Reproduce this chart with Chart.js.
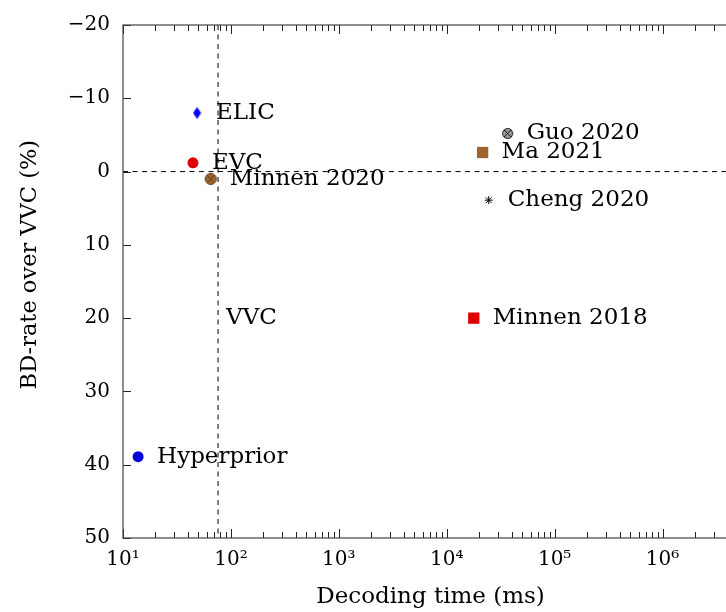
<!DOCTYPE html>
<html>
<head>
<meta charset="utf-8">
<script src="https://cdn.jsdelivr.net/npm/chart.js@4.4.1/dist/chart.umd.min.js"></script>
<style>
    html, body { margin: 0; padding: 0; background: #fff; }
    #wrap { width: 726px; height: 612px; overflow: hidden; position: relative; }
</style>
</head>
<body>
<div id="wrap"><canvas id="chart" width="760" height="612" style="width:760px;height:612px"></canvas></div>
<script>
// values
const methods = ["ELIC", "EVC", "Minnen 2020", "Guo 2020", "Ma 2021", "Cheng 2020", "Minnen 2018", "Hyperprior"];
const decodeTimeMs = [48.5, 44.5, 65, 36700, 21500, 24500, 17800, 13.8];
const bdRate = [-8.0, -1.2, 1.0, -5.2, -2.6, 3.9, 20.0, 38.9];

// VVC anchor (dashed cross) and its label
const vvcTime = 76;
const vvcRate = 0;
const vvcLabelRate = 20;

const xMin = 10;
const xMax = 5e6;
const xDecades = [10, 100, 1000, 10000, 100000, 1000000];
const xTickLabels = ["10¹", "10²", "10³", "10⁴", "10⁵", "10⁶"];
const xMinorSteps = [2, 3, 4, 5, 6, 7, 8, 9];

const serif = "'DejaVu Serif', 'Liberation Serif', serif";

function marker(w, h, draw) {
    const c = document.createElement("canvas");
    c.width = w; c.height = h;
    draw(c.getContext("2d"), w, h);
    return c;
}

const diamond = marker(9, 13, (g, w, h) => {
    g.fillStyle = "#0000ff";
    g.beginPath();
    g.moveTo(w / 2, 0.5); g.lineTo(w - 0.5, h / 2); g.lineTo(w / 2, h - 0.5); g.lineTo(0.5, h / 2);
    g.closePath(); g.fill();
});

function circleX(fill, stroke, r) {
    const s = Math.ceil(r * 2 + 3);
    return marker(s, s, (g) => {
        const c = s / 2;
        g.fillStyle = fill; g.strokeStyle = stroke; g.lineWidth = 1;
        g.beginPath(); g.arc(c, c, r, 0, Math.PI * 2); g.fill(); g.stroke();
        const d = r * 0.7;
        g.beginPath();
        g.moveTo(c - d, c - d); g.lineTo(c + d, c + d);
        g.moveTo(c + d, c - d); g.lineTo(c - d, c + d);
        g.stroke();
    });
}

const styles = {
    "ELIC":        { pointStyle: diamond, color: "#0000ff", radius: 6, border: 0 },
    "EVC":         { pointStyle: "circle", color: "#e00000", radius: 5.5, border: 0 },
    "Minnen 2020": { pointStyle: circleX("#a0682f", "#5e3a16", 5.5), color: "#a0682f", radius: 6, border: 0 },
    "Guo 2020":    { pointStyle: circleX("#9a9a9a", "#111111", 5), color: "#9a9a9a", radius: 6, border: 0 },
    "Ma 2021":     { pointStyle: "rect", color: "#a0652f", radius: 8, border: 0 },
    "Cheng 2020":  { pointStyle: "star", color: "#000000", radius: 4, border: 1 },
    "Minnen 2018": { pointStyle: "rect", color: "#dd0000", radius: 8, border: 0 },
    "Hyperprior":  { pointStyle: "circle", color: "#0000dd", radius: 5.5, border: 0 }
};

const points = methods.map((m, i) => ({ x: decodeTimeMs[i], y: bdRate[i] }));

// frame plus inward tick marks (pgfplots style)
const frameAndTicks = {
    id: "frameAndTicks",
    afterDraw(chart) {
        const { ctx, chartArea: a, scales } = chart;
        ctx.save();
        ctx.setLineDash([]);
        ctx.strokeStyle = "#222";
        ctx.lineWidth = 1;
        ctx.beginPath();
        scales.x.ticks.forEach(t => {
            const px = Math.round(scales.x.getPixelForValue(t.value)) + 0.5;
            const len = t.major ? 9 : 6;
            ctx.moveTo(px, a.bottom); ctx.lineTo(px, a.bottom - len);
            ctx.moveTo(px, a.top); ctx.lineTo(px, a.top + len);
        });
        scales.y.ticks.forEach(t => {
            const py = Math.round(scales.y.getPixelForValue(t.value)) + 0.5;
            ctx.moveTo(a.left, py); ctx.lineTo(a.left + 8, py);
            ctx.moveTo(a.right, py); ctx.lineTo(a.right - 8, py);
        });
        ctx.stroke();
        ctx.strokeStyle = "#444";
        ctx.lineWidth = 1.2;
        ctx.strokeRect(a.left, a.top, a.right - a.left, a.bottom - a.top);
        ctx.restore();
    }
};

const pointLabels = {
    id: "pointLabels",
    afterDatasetsDraw(chart) {
        const { ctx, scales } = chart;
        const meta = chart.getDatasetMeta(0);
        ctx.save();
        ctx.fillStyle = "#000";
        ctx.font = "23px " + serif;
        ctx.textBaseline = "middle";
        ctx.textAlign = "left";
        meta.data.forEach((el, i) => {
            ctx.fillText(methods[i], el.x + 19, el.y);
        });
        ctx.fillText("VVC", scales.x.getPixelForValue(vvcTime) + 8, scales.y.getPixelForValue(vvcLabelRate));
        ctx.restore();
    }
};

const dashed = { borderColor: "#000", borderWidth: 1, borderDash: [5, 4.5], pointRadius: 0, fill: false, order: 2 };

new Chart(document.getElementById("chart"), {
    type: "scatter",
    data: {
        datasets: [
            {
                label: "methods",
                data: points,
                pointStyle: methods.map(m => styles[m].pointStyle),
                backgroundColor: methods.map(m => styles[m].color),
                borderColor: methods.map(m => styles[m].color),
                borderWidth: methods.map(m => styles[m].border),
                pointRadius: methods.map(m => styles[m].radius),
                order: 0
            },
            Object.assign({ type: "line", data: [{ x: xMin, y: vvcRate }, { x: xMax, y: vvcRate }] }, dashed),
            Object.assign({ type: "line", data: [{ x: vvcTime, y: -20 }, { x: vvcTime, y: 50 }] }, dashed)
        ]
    },
    options: {
        responsive: false,
        animation: false,
        events: [],
        layout: { padding: { top: 23, right: 22, left: 0, bottom: 0 } },
        plugins: { legend: { display: false }, tooltip: { enabled: false } },
        scales: {
            x: {
                type: "logarithmic",
                min: xMin,
                max: xMax,
                grid: { display: false, drawTicks: false },
                border: { display: false },
                afterFit: s => { s.height = 74; },
                afterBuildTicks: s => {
                    const ticks = [];
                    xDecades.forEach(d => {
                        ticks.push({ value: d, major: true });
                        xMinorSteps.forEach(m => { if (m * d <= xMax) ticks.push({ value: m * d, major: false }); });
                    });
                    s.ticks = ticks;
                },
                ticks: {
                    autoSkip: false,
                    maxRotation: 0,
                    padding: 10,
                    color: "#000",
                    font: { family: serif, size: 20 },
                    callback: v => {
                        const k = xDecades.indexOf(v);
                        return k >= 0 ? xTickLabels[k] : "";
                    }
                },
                title: { display: true, text: "Decoding time (ms)", color: "#000", font: { family: serif, size: 23 }, padding: { top: 0, bottom: 1 } }
            },
            y: {
                min: -20,
                max: 50,
                reverse: true,
                grid: { display: false, drawTicks: false },
                border: { display: false },
                afterFit: s => { s.width = 123; },
                ticks: {
                    stepSize: 10,
                    padding: 13,
                    color: "#000",
                    font: { family: serif, size: 20 },
                    callback: v => String(v).replace("-", "\u2212")
                },
                title: { display: true, text: "\u2003\u2002BD-rate over VVC (%)", color: "#000", font: { family: serif, size: 22.5 }, padding: { top: 17, bottom: 0 } }
            }
        }
    },
    plugins: [frameAndTicks, pointLabels]
});
</script>
</body>
</html>
